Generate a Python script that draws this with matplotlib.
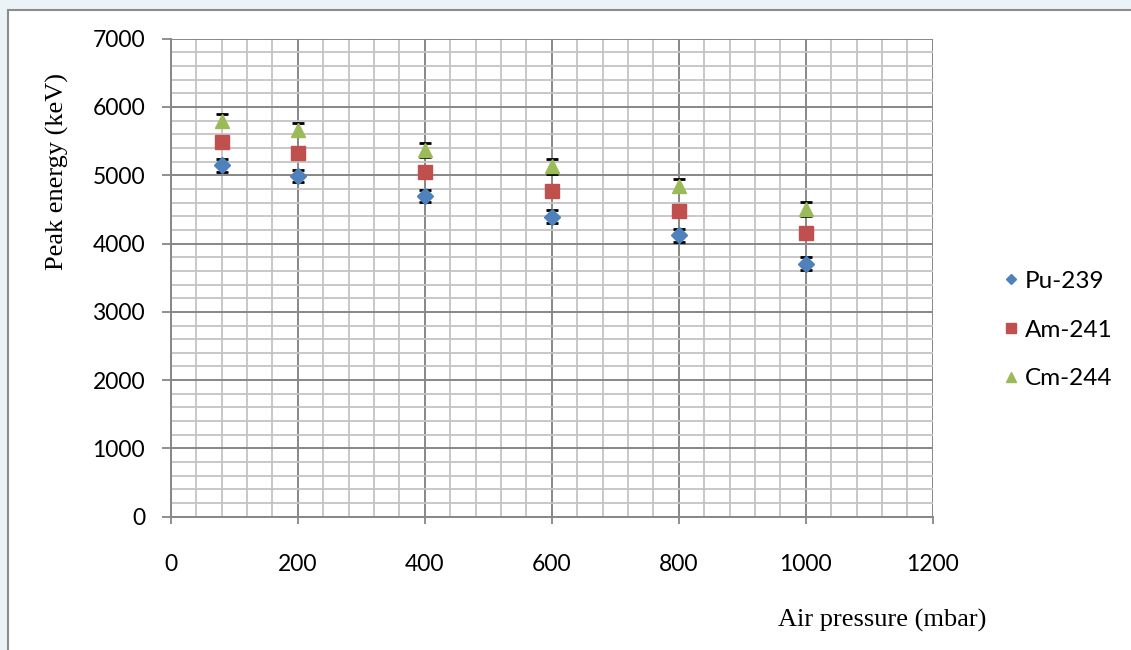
import matplotlib
matplotlib.use("Agg")
import matplotlib.pyplot as plt
from matplotlib.patches import Rectangle
from matplotlib.ticker import MultipleLocator

# air pressure (mbar)
pressure = [80, 200, 400, 600, 800, 1000]

# peak energies (keV)
pu239 = [5150, 4985, 4695, 4395, 4120, 3705]
am241 = [5480, 5330, 5045, 4775, 4475, 4150]
cm244 = [5800, 5665, 5370, 5130, 4845, 4505]

# error bar half-widths (keV)
pu239_err = [95, 90, 90, 95, 95, 95]
cm244_err = [98, 95, 98, 105, 97, 103]

BLUE = "#4F81BD"
RED = "#C0504D"
GREEN = "#9BBB59"

W, H = 1131, 650
fig = plt.figure(figsize=(W / 100, H / 100), dpi=100)
fig.patch.set_facecolor("#eaf4f8")

# chart area frame (behind the axes)
frame = Rectangle((7.5 / W, -0.05), 1.1, 1 - 10 / H + 0.05, transform=fig.transFigure,
                  facecolor="white", edgecolor="#8c8c8c", linewidth=1.5, zorder=-10)
fig.patches.append(frame)

ax = fig.add_axes([170.7 / W, 133.3 / H, 762.0 / W, 478.0 / H])
ax.set_zorder(1)
ax.patch.set_alpha(0)
ax.set_xlim(0, 1200)
ax.set_ylim(0, 7000)

ax.xaxis.set_major_locator(MultipleLocator(200))
ax.xaxis.set_minor_locator(MultipleLocator(40))
ax.yaxis.set_major_locator(MultipleLocator(1000))
ax.yaxis.set_minor_locator(MultipleLocator(200))

ax.grid(which="minor", color="#c4c4c4", linewidth=1.3, zorder=0)
ax.grid(which="major", color="#878787", linewidth=1.4, zorder=0)
ax.set_axisbelow(True)

for s in ["top", "right"]:
    ax.spines[s].set_visible(False)
for s in ["left", "bottom"]:
    ax.spines[s].set_color("#878787")
    ax.spines[s].set_linewidth(1.4)

ax.tick_params(which="minor", length=0)
ax.tick_params(axis="y", which="major", length=6.5, width=1.3, color="#878787", pad=12,
               labelsize=16.5)
ax.tick_params(axis="x", which="major", length=5, width=1.3, color="#878787", pad=22,
               labelsize=16.5)
for lab in ax.get_xticklabels() + ax.get_yticklabels():
    lab.set_fontfamily("Lato")

ax.errorbar(pressure, pu239, yerr=pu239_err, fmt="none", ecolor="black", elinewidth=1.2,
            capsize=4.4, capthick=2, zorder=2)
ax.errorbar(pressure, cm244, yerr=cm244_err, fmt="none", ecolor="black", elinewidth=1.2,
            capsize=4.4, capthick=2, zorder=2)

ax.plot(pressure, pu239, linestyle="none", marker="D", ms=8, color=BLUE, label="Pu-239", zorder=3)
ax.plot(pressure, am241, linestyle="none", marker="s", ms=9.5, color=RED, label="Am-241", zorder=3)
ax.plot(pressure, cm244, linestyle="none", marker="^", ms=10.5, color=GREEN, label="Cm-244", zorder=3)

leg = fig.legend(loc="center left", bbox_to_anchor=(982 / W, 1 - 330 / H), frameon=False,
                 markerscale=0.7, handlelength=0.55, handletextpad=0.3, labelspacing=1.15,
                 prop={"family": "Lato", "size": 17.5})

fig.text(57 / W, 1 - 171 / H, "Peak energy (keV)", rotation=90, ha="center", va="center",
         family="Liberation Serif", fontsize=19)
fig.text(882 / W, 1 - 620 / H, "Air pressure (mbar)", ha="center", va="center",
         family="Liberation Serif", fontsize=19)

fig.savefig("out.png", dpi=100, facecolor=fig.get_facecolor())
